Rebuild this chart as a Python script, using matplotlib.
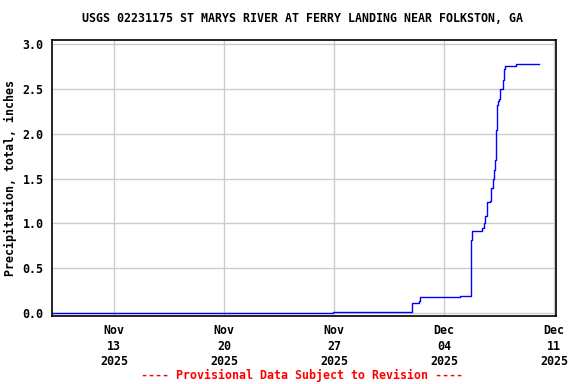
import matplotlib
matplotlib.use("Agg")
import matplotlib.pyplot as plt
import matplotlib.dates as mdates
import numpy as np
import pandas as pd

title = "USGS 02231175 ST MARYS RIVER AT FERRY LANDING NEAR FOLKSTON, GA"
ylabel = "Precipitation, total, inches"
footer = "---- Provisional Data Subject to Revision ----"

times = [
    "2025-11-09 01:00", "2025-11-26 22:30", "2025-12-01 00:00", "2025-12-01 23:00",
    "2025-12-02 09:20", "2025-12-02 11:50", "2025-12-05 01:00", "2025-12-05 16:50",
    "2025-12-05 17:45", "2025-12-05 19:15", "2025-12-06 10:30", "2025-12-06 13:10",
    "2025-12-06 15:10", "2025-12-06 17:45", "2025-12-06 22:20", "2025-12-06 23:50",
    "2025-12-07 02:20", "2025-12-07 03:50", "2025-12-07 05:30", "2025-12-07 07:00",
    "2025-12-07 08:30", "2025-12-07 10:00", "2025-12-07 12:00", "2025-12-07 14:00",
    "2025-12-07 17:40", "2025-12-07 19:10", "2025-12-07 20:40", "2025-12-07 22:10",
    "2025-12-08 14:20", "2025-12-10 00:40",
]
values = [
    0.00, 0.01, 0.015, 0.11,
    0.13, 0.175, 0.185, 0.30,
    0.81, 0.91, 0.95, 1.00,
    1.08, 1.24, 1.25, 1.39,
    1.49, 1.59, 1.71, 2.04,
    2.32, 2.36, 2.39, 2.50,
    2.60, 2.72, 2.75, 2.76,
    2.78, 2.78,
]
xtick_dates = ["2025-11-13", "2025-11-20", "2025-11-27", "2025-12-04", "2025-12-11"]
ytick_vals = [0.0, 0.5, 1.0, 1.5, 2.0, 2.5, 3.0]

t = pd.to_datetime(times)
xt = pd.to_datetime(xtick_dates)

fig = plt.figure(figsize=(5.76, 3.84), dpi=100)
ax = fig.add_axes([52/576, 1-316/384, (556-52)/576, (316-40)/384])

mono = "DejaVu Sans Mono"
ax.step(t, values, where="post", color="#0000ff", lw=1.0)

ax.set_xlim(pd.Timestamp("2025-11-09 01:15"), pd.Timestamp("2025-12-11 03:00"))
ax.set_ylim(-0.033, 3.045)
ax.set_xticks(xt)
ax.set_xticklabels([d.strftime("%b\n%d\n%Y") for d in xt], family=mono,
                   fontweight="bold", fontsize=8.4, linespacing=1.25)
ax.set_yticks(ytick_vals)
ax.set_yticklabels([f"{v:.1f}" for v in ytick_vals], family=mono,
                   fontweight="bold", fontsize=8.4)
ax.tick_params(axis="both", length=0, pad=6)
ax.grid(True, color="#cccccc", lw=1.0)
ax.set_axisbelow(True)
for s in ax.spines.values():
    s.set_linewidth(1.2)
    s.set_color("black")

ax.set_ylabel(ylabel, family=mono, fontweight="bold", fontsize=8.4, labelpad=4)
fig.text(302/576, 1-19/384, title, ha="center", va="center", family=mono,
         fontweight="bold", fontsize=8.4)
fig.text(302/576, 1-375/384, footer, ha="center", va="center", family=mono,
         fontweight="bold", fontsize=8.4, color="red")

fig.savefig("out.png", dpi=100)
